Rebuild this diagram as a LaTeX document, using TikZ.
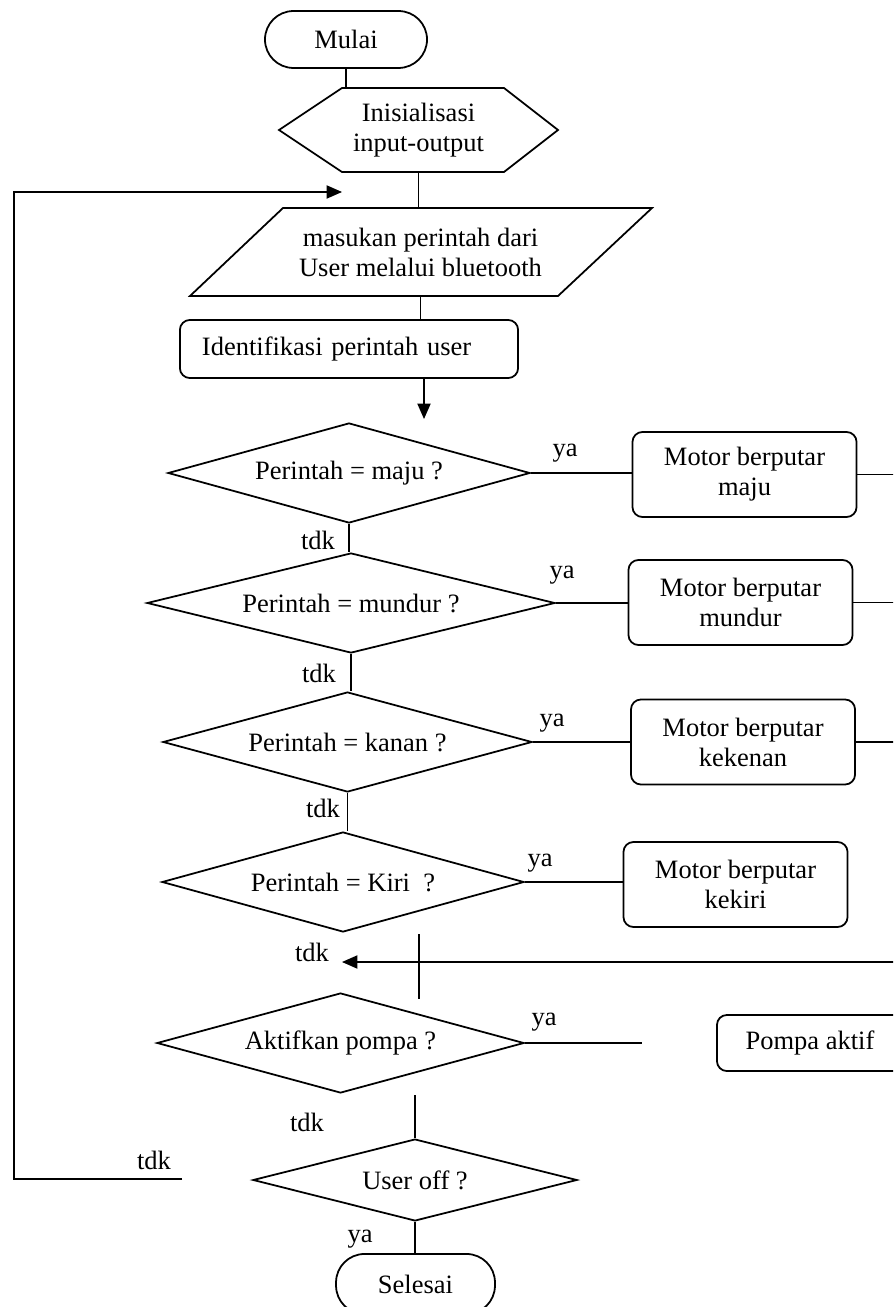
\documentclass[tikz,border=0pt]{standalone}
\usepackage{fontspec}
\setmainfont{Liberation Serif}
\usepackage{tikz}
\usetikzlibrary{
    arrows.meta,
    positioning,
    shapes.geometric,
    calc
}
\tikzset{
    % Lines
    line color/.style={black},
    shape line/.style={line color,line width=0.8pt},
    link/.style={line color,line width=0.6pt},
    %
    % Arrows
    arrow tip/.tip={Triangle[length=7pt,width=6pt]},
    arr/.style={-{arrow tip}},
    %
    % Nodes
    plain/.style={align=center,inner sep=0pt},
    terminal/.style={shape line,draw,rectangle,rounded corners=12.9pt,minimum width=73.4pt,minimum height=25.8pt},
    process/.style={shape line,draw,rectangle,rounded corners=4.5pt,align=center,minimum width=101.5pt,minimum height=38.5pt},
    decision/.style={shape line,draw,diamond,aspect=3.6,inner sep=0pt,minimum height=45.3pt},
    lbl/.style={inner sep=0pt},
}
\tikzstyle{every node}=[font=\fontsize{12}{13.6}\selectfont]

\begin{document}
\begin{tikzpicture}[x=0.453pt,y=-0.453pt]
        \useasboundingbox (0,0) rectangle (893,1307);
        \clip (0,0) rectangle (893,1307);
        \coordinate (edge) at (900,0);
        % main column
        \node[terminal] (mulai) at (346,39.5) {Mulai};
        \node[plain,minimum height=38pt] (init) at (418.5,130) {Inisialisasi\\input-output};
        \draw[shape line] (279,130) -- (342,88) -- (504,88) -- (558,130) -- (504,172) -- (342,172) -- cycle;
        \node[plain,minimum height=39.9pt] (input) at (420.5,252) {masukan perintah dari\\User melalui bluetooth};
        \draw[shape line] (190,296) -- (283,208) -- (652,208) -- (558,296) -- cycle;
        \node[process,minimum width=153.1pt,minimum height=26.3pt,text width=133.2pt,inner xsep=10pt,align=left] (idf) at (349,349) {Identifikasi perintah user};
        \node[decision,minimum width=164pt] (d1) at (349,473) {Perintah = maju ?};
        \node[decision,minimum width=184.8pt] (d2) at (351,603) {Perintah = mundur ?};
        \node[decision,minimum width=167.2pt] (d3) at (347.5,742) {Perintah = kanan ?};
        \node[decision,minimum width=164pt] (d4) at (343,882) {Perintah = Kiri~~?};
        \node[decision,minimum width=166.3pt] (d5) at (340.5,1043) {Aktifkan pompa ?};
        \node[decision,minimum width=146.8pt,minimum height=37.1pt] (d6) at (415,1180) {User off ?};
        \node[terminal,minimum width=72pt,minimum height=27.2pt] (selesai) at (415.5,1284) {Selesai};
        % right column
        \node[process] (m1) at (744.5,474.5) {Motor berputar\\maju};
        \node[process] (m2) at (740.5,602.5) {Motor berputar\\mundur};
        \node[process] (m3) at (743,742) {Motor berputar\\kekenan};
        \node[process] (m4) at (735.5,884.5) {Motor berputar\\kekiri};
        \node[process,minimum width=84.3pt,minimum height=25.4pt] (pompa) at (810,1043) {Pompa aktif};
        % free ends
        \coordinate (idf tip) at (424,419);
        \coordinate (back tip) at (342,962);
        \coordinate (cross top) at (419,934);
        \coordinate (cross bot) at (419,999);
        \coordinate (pompa stub) at (642,1043);
        \coordinate (d6 stub) at (415,1095);
        \coordinate (loop start) at (182,1179);
        \coordinate (loop left) at (14,192);
        \coordinate (loop tip) at (342,192);
        % connectors
        \draw[link] (mulai.south) -- (mulai.south |- init.north);
        \draw[link] (init.south) -- (init.south |- input.north);
        \draw[link] (input.south) -- (input.south |- idf.north);
        \draw[link,arr] (idf tip |- idf.south) -- (idf tip);
        \draw[link] (d1.south) -- (d1.south |- d2.north);
        \draw[link] (d2.south) -- (d2.south |- d3.north);
        \draw[link] (d3.south) -- (d3.south |- d4.north);
        \draw[link] (d1.east) -- (d1.east -| m1.west);
        \draw[link] (d2.east) -- (d2.east -| m2.west);
        \draw[link] (d3.east) -- (d3.east -| m3.west);
        \draw[link] (d4.east) -- (d4.east -| m4.west);
        \draw[link] (m1.east) -- (m1.east -| edge);
        \draw[link] (m2.east) -- (m2.east -| edge);
        \draw[link] (m3.east) -- (m3.east -| edge);
        \draw[link,arr] (back tip -| edge) -- (back tip);
        \draw[link] (cross top) -- (cross bot);
        \draw[link] (d5.east) -- (pompa stub);
        \draw[link] (d6 stub) -- (d6 stub |- d6.north);
        \draw[link] (d6.south) -- (d6.south |- selesai.north);
        \draw[link,arr] (loop start) -| (loop left) -- (loop tip);
        % labels
        \node[lbl] (ya1) at (565,453) {ya};
        \node[lbl] (ya2) at (562,575) {ya};
        \node[lbl] (ya3) at (552,723) {ya};
        \node[lbl] (ya4) at (540,863) {ya};
        \node[lbl] (ya5) at (544,1022) {ya};
        \node[lbl] (ya6) at (360,1239) {ya};
        \node[lbl] (tdk1) at (318,540) {tdk};
        \node[lbl] (tdk2) at (319,673) {tdk};
        \node[lbl] (tdk3) at (323,808) {tdk};
        \node[lbl] (tdk4) at (312,952) {tdk};
        \node[lbl] (tdk5) at (307,1122) {tdk};
        \node[lbl] (tdk6) at (154,1160) {tdk};
    \end{tikzpicture}
\end{document}
